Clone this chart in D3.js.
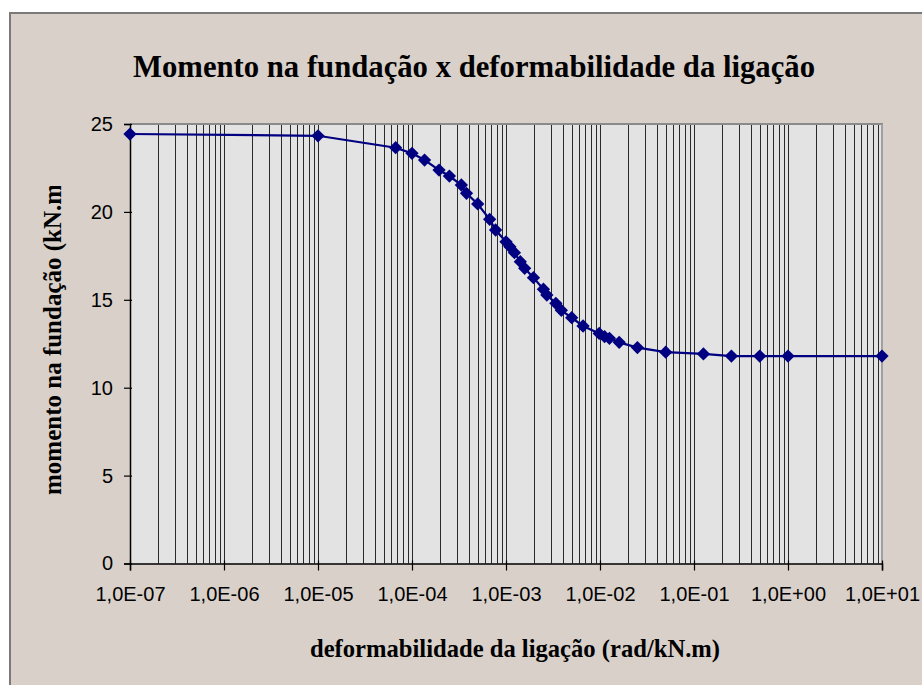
<!DOCTYPE html>
<html>
<head>
<meta charset="utf-8">
<script src="https://cdn.jsdelivr.net/npm/d3@7"></script>
<style>
  html, body { margin: 0; padding: 0; background: #ffffff; }
  svg { display: block; }
</style>
</head>
<body>
<svg id="chart" width="922" height="685"></svg>
<script>
// Deformabilidade da ligação (rad/kN.m)
const deformabilidade = [
  1e-7, 1e-5, 6.7e-5, 1e-4, 1.36e-4, 1.94e-4, 2.5e-4, 3.35e-4, 3.8e-4, 5e-4,
  6.7e-4, 7.75e-4, 1e-3, 1.1e-3, 1.23e-3, 1.42e-3, 1.58e-3, 1.96e-3, 2.5e-3, 2.72e-3,
  3.39e-3, 3.88e-3, 5e-3, 6.6e-3, 9.8e-3, 1.12e-2, 1.26e-2, 1.6e-2, 2.5e-2, 5e-2,
  0.126, 0.25, 0.5, 1, 10
];
// Momento na fundação (kN.m)
const momento = [
  24.43, 24.33, 23.65, 23.33, 22.95, 22.38, 22.04, 21.53, 21.06, 20.45,
  19.58, 18.97, 18.30, 18.02, 17.68, 17.17, 16.79, 16.26, 15.60, 15.27,
  14.80, 14.40, 13.98, 13.51, 13.09, 12.90, 12.81, 12.58, 12.28, 12.02,
  11.92, 11.80, 11.80, 11.80, 11.80
];
const xTickValues = [1e-7, 1e-6, 1e-5, 1e-4, 1e-3, 1e-2, 1e-1, 1e0, 1e1];
const yTickValues = [0, 5, 10, 15, 20, 25];

const chartTitle = "Momento na fundação x deformabilidade da ligação";
const xTitle = "deformabilidade da ligação (rad/kN.m)";
const yTitle = "momento na fundação (kN.m)";

const svg = d3.select("#chart");
const plot = { left: 130, right: 882, top: 124, bottom: 563.5 };

// Chart area background and frame
svg.append("rect")
  .attr("x", 10).attr("y", 13).attr("width", 930).attr("height", 690)
  .attr("fill", "#d9d0ca").attr("stroke", "#7a7a7a").attr("stroke-width", 2);

const x = d3.scaleLog().domain([1e-7, 10]).range([plot.left, plot.right]);
const y = d3.scaleLinear().domain([0, 25]).range([plot.bottom, plot.top]);

// Plot area
svg.append("rect")
  .attr("x", plot.left).attr("y", plot.top)
  .attr("width", plot.right - plot.left).attr("height", plot.bottom - plot.top)
  .attr("fill", "#e3e3e3");

// Vertical log gridlines (majors and minors)
const gridVals = [];
for (let e = -7; e < 1; e++) {
  for (let m = 1; m <= 9; m++) {
    const v = m * Math.pow(10, e);
    if (v > 1e-7) gridVals.push(v);
  }
}
svg.append("g")
  .selectAll("line").data(gridVals).join("line")
  .attr("x1", d => Math.round(x(d)) + 0.5).attr("x2", d => Math.round(x(d)) + 0.5)
  .attr("y1", plot.top).attr("y2", plot.bottom)
  .attr("stroke", "#2a2a2a").attr("stroke-width", 1);

// Plot frame (top and right)
svg.append("line")
  .attr("x1", plot.left).attr("x2", plot.right + 1)
  .attr("y1", plot.top).attr("y2", plot.top)
  .attr("stroke", "#8a8a8a").attr("stroke-width", 2);
svg.append("line")
  .attr("x1", plot.right).attr("x2", plot.right)
  .attr("y1", plot.top).attr("y2", plot.bottom)
  .attr("stroke", "#a0a0a0").attr("stroke-width", 2);

const fmtTick = v => {
  const e = Math.round(Math.log10(v));
  const s = e < 0 ? "-" : "+";
  return "1,0E" + s + String(Math.abs(e)).padStart(2, "0");
};

// X axis
const xAxis = svg.append("g")
  .attr("transform", `translate(0,${plot.bottom})`)
  .call(d3.axisBottom(x).tickValues(xTickValues).tickFormat(fmtTick).tickSize(7).tickPadding(16));
xAxis.select(".domain").attr("stroke", "#000").attr("stroke-width", 1.5);
xAxis.selectAll(".tick line").attr("y1", -3).attr("stroke", "#000").attr("stroke-width", 1.2);
xAxis.selectAll(".tick text")
  .attr("font-family", "'Liberation Sans', Arial, sans-serif")
  .attr("font-size", 20).attr("fill", "#000");

// Y axis
const yAxis = svg.append("g")
  .attr("transform", `translate(${plot.left},0)`)
  .call(d3.axisLeft(y).tickValues(yTickValues).tickSize(6).tickPadding(11));
yAxis.select(".domain").attr("stroke", "#000").attr("stroke-width", 1.5);
yAxis.selectAll(".tick line").attr("x1", 2).attr("stroke", "#000").attr("stroke-width", 1.2);
yAxis.selectAll(".tick text")
  .attr("font-family", "'Liberation Sans', Arial, sans-serif")
  .attr("font-size", 20).attr("fill", "#000");

// Series line and diamond markers
const pts = deformabilidade.map((d, i) => [d, momento[i]]);
svg.append("path")
  .datum(pts)
  .attr("fill", "none").attr("stroke", "#000080").attr("stroke-width", 2.2)
  .attr("d", d3.line().x(d => x(d[0])).y(d => y(d[1])));

const diamond = d3.symbol().type(d3.symbolSquare).size(88);
svg.append("g")
  .selectAll("path").data(pts).join("path")
  .attr("d", diamond)
  .attr("transform", d => `translate(${x(d[0])},${y(d[1])}) rotate(45)`)
  .attr("fill", "#000080");

// Titles
svg.append("text")
  .attr("x", 133).attr("y", 77)
  .attr("font-family", "'Liberation Serif', 'Times New Roman', serif")
  .attr("font-weight", "bold").attr("font-size", 32)
  .attr("textLength", 682).attr("lengthAdjust", "spacingAndGlyphs")
  .attr("fill", "#000")
  .text(chartTitle);

svg.append("text")
  .attr("x", 310).attr("y", 657)
  .attr("font-family", "'Liberation Serif', 'Times New Roman', serif")
  .attr("font-weight", "bold").attr("font-size", 25)
  .attr("textLength", 410).attr("lengthAdjust", "spacingAndGlyphs")
  .attr("fill", "#000")
  .text(xTitle);

// Vertical title, cut at the top of its box
svg.append("clipPath").attr("id", "ytitle-clip")
  .append("rect").attr("x", 0).attr("y", 186).attr("width", 120).attr("height", 420);
svg.append("g").attr("clip-path", "url(#ytitle-clip)")
  .append("text")
  .attr("transform", "translate(61,495) rotate(-90)")
  .attr("font-family", "'Liberation Serif', 'Times New Roman', serif")
  .attr("font-weight", "bold").attr("font-size", 25)
  .attr("fill", "#000")
  .text(yTitle);
</script>
</body>
</html>
